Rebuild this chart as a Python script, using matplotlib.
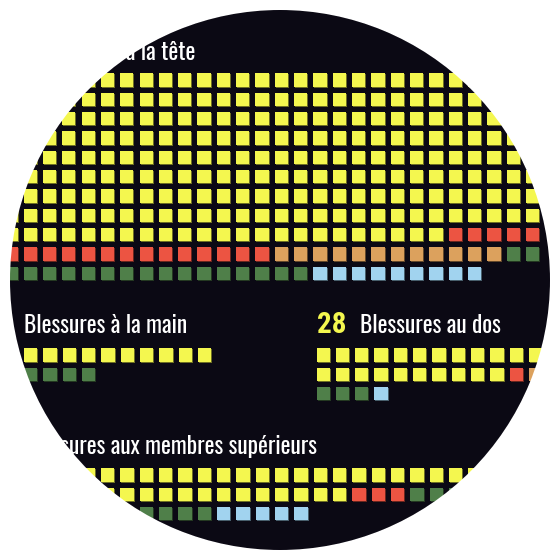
import matplotlib
matplotlib.use('Agg')
import matplotlib.pyplot as plt
from matplotlib.patches import Rectangle, Wedge, Circle
from matplotlib.colors import to_rgb

plt.rcParams['font.family'] = ['Oswald', 'DejaVu Sans']

# severity groups, same order in every panel
colors = ['#f4f74f', '#ec5442', '#dca15d', '#4f7f49', '#a1d3ef']

titles = ['Blessures à la tête', 'Blessures à la main', 'Blessures au dos',
          'Blessures aux membres supérieurs']
numbers = ['', '', '28', '']

head_counts = [247, 19, 12, 18, 9]
hand_counts = [10, 0, 0, 4, 0]
dos_counts = [22, 1, 1, 3, 1]
upper_counts = [44, 3, 0, 17, 5]

# columns per row for each panel
ncols = [28, 10, 12, 27]

BG = '#0b0914'
STEP = 19.33
SIZE = 13.3


def waffle(ax, x0, y0, counts, nc):
    i = 0
    for c, n in zip(colors, counts):
        shadow = tuple(v * 0.45 for v in to_rgb(c))
        for _ in range(n):
            x = x0 + (i % nc) * STEP
            y = y0 + (i // nc) * STEP
            ax.add_patch(Rectangle((x + 1, y + 1), SIZE, SIZE, color=shadow, lw=0, zorder=1))
            ax.add_patch(Rectangle((x, y), SIZE, SIZE, color=c, lw=0, zorder=2))
            i += 1


def title(ax, x, y, text, num=''):
    if num:
        ax.text(x, y, num, color='#f4f74f', fontsize=21, fontweight='bold',
                family=['Roboto Condensed', 'DejaVu Sans'], va='baseline', zorder=3)
        x += 43.5
    ax.text(x, y, text, color='white', fontsize=16.8, va='baseline', zorder=3)


fig = plt.figure(figsize=(5.6, 5.6), dpi=100)
fig.patch.set_facecolor('white')
ax = fig.add_axes([0, 0, 1, 1])
ax.set_xlim(0, 560)
ax.set_ylim(560, 0)
ax.axis('off')

ax.add_patch(Circle((280, 280), 270, color=BG, zorder=0))

# panel layout: (x, title baseline, first row top)
layout = [(4.2, 59.5, 73.3), (24, 333.3, 348.3), (316.5, 333.3, 348.3), (23.7, 454.3, 468.3)]
all_counts = [head_counts, hand_counts, dos_counts, upper_counts]

for k in range(4):
    x, ty, gy = layout[k]
    tx = x if k != 0 else 39
    title(ax, tx, ty, titles[k], numbers[k])
    waffle(ax, x, gy, all_counts[k], ncols[k])

# white mask outside the round frame
ax.add_patch(Wedge((280, 280), 420, 0, 360, width=150, color='white', lw=0, zorder=10))

fig.savefig('out.png', dpi=100, facecolor='white')
